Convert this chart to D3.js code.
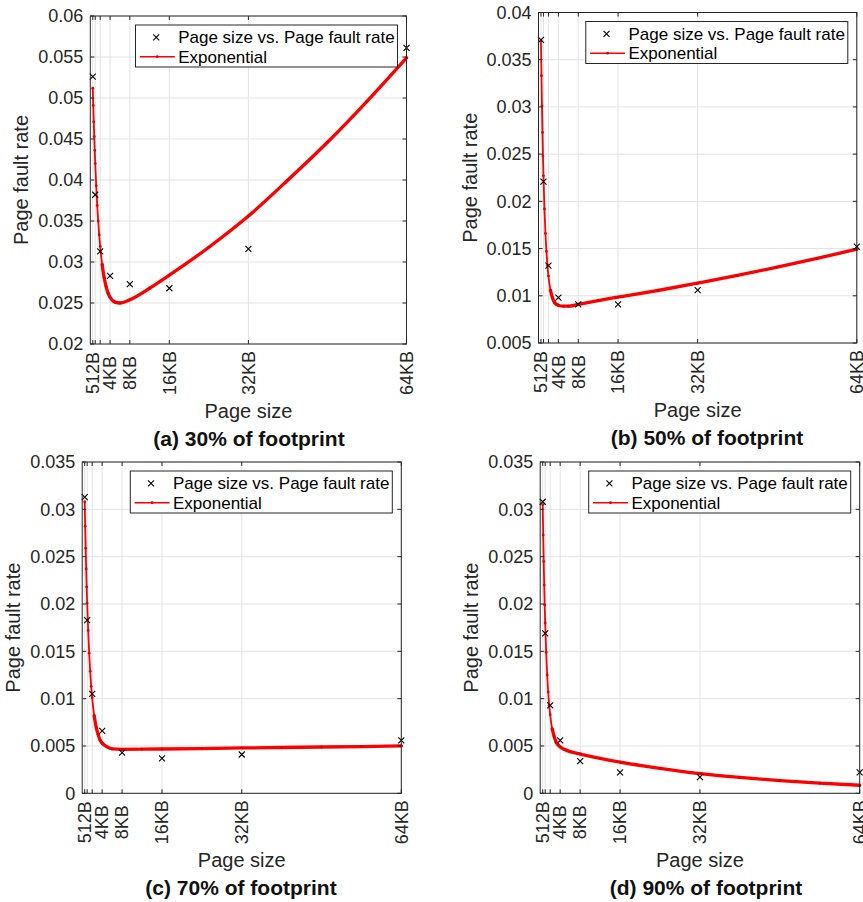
<!DOCTYPE html>
<html><head><meta charset="utf-8">
<script src="https://cdn.jsdelivr.net/npm/d3@7"></script>
<style>
body{margin:0;background:#fff}
svg text{font-family:"Liberation Sans",Arial,Helvetica,sans-serif;}
</style>
</head><body>
<svg id="chart" width="863" height="902"></svg>
<script>
// ---- data ----
const pageSizesKB = [0.5, 1, 2, 4, 8, 16, 32, 64];
const xTickLabels = ["512B", "", "", "4KB", "8KB", "16KB", "32KB", "64KB"];

const faultA = [0.0526, 0.0382, 0.0313, 0.0283, 0.0273, 0.0268, 0.0316, 0.0561];
const faultB = [0.0371, 0.0221, 0.0132, 0.0098, 0.0091, 0.0091, 0.0106, 0.0152];
const faultC = [0.0313, 0.0183, 0.0105, 0.0066, 0.0043, 0.0037, 0.0041, 0.0056];
const faultD = [0.0308, 0.0169, 0.0093, 0.0056, 0.0034, 0.0022, 0.0017, 0.0022];

const fitKB = [0.5, 0.6, 0.7, 0.8, 0.9, 1.0, 1.2, 1.4, 1.6, 1.8, 2.0, 2.4, 2.8, 3.2, 3.6, 4.0, 5, 6, 8, 12, 16, 24, 32, 40, 48, 56, 64];
const fitA = [0.0512, 0.0491, 0.0471, 0.0453, 0.0436, 0.0420, 0.0393, 0.0369, 0.0350, 0.0333, 0.0319, 0.0297, 0.0281, 0.0270, 0.0262, 0.0257, 0.0251, 0.0250, 0.0254, 0.0268, 0.0284, 0.0318, 0.0356, 0.0400, 0.0446, 0.0496, 0.0549];
const fitB = [0.0370, 0.0333, 0.0301, 0.0273, 0.0248, 0.0227, 0.0192, 0.0166, 0.0147, 0.0132, 0.0121, 0.0106, 0.0098, 0.0093, 0.0091, 0.0090, 0.0089, 0.0089, 0.0091, 0.0095, 0.00986, 0.01056, 0.01134, 0.01215, 0.01303, 0.01395, 0.01493];
const fitC = [0.0308, 0.0282, 0.0259, 0.0237, 0.0218, 0.0201, 0.0172, 0.0148, 0.0129, 0.0113, 0.0101, 0.0082, 0.0070, 0.0062, 0.0056, 0.0053, 0.0049, 0.0047, 0.00465, 0.00466, 0.00468, 0.00473, 0.00479, 0.00484, 0.00489, 0.00494, 0.0050];
const fitD = [0.0305, 0.0273, 0.0245, 0.0220, 0.0199, 0.0180, 0.0149, 0.0125, 0.0107, 0.0093, 0.0083, 0.0068, 0.0060, 0.0054, 0.0051, 0.0049, 0.0046, 0.0044, 0.00415, 0.0037, 0.0033, 0.00264, 0.00209, 0.00168, 0.00134, 0.00107, 0.00085];

const yTicksA = [0.02, 0.025, 0.03, 0.035, 0.04, 0.045, 0.05, 0.055, 0.06];
const yTicksB = [0.005, 0.01, 0.015, 0.02, 0.025, 0.03, 0.035, 0.04];
const yTicksCD = [0, 0.005, 0.01, 0.015, 0.02, 0.025, 0.03, 0.035];
const yTickLabelsA = ["0.02", "0.025", "0.03", "0.035", "0.04", "0.045", "0.05", "0.055", "0.06"];
const yTickLabelsB = ["0.005", "0.01", "0.015", "0.02", "0.025", "0.03", "0.035", "0.04"];
const yTickLabelsCD = ["0", "0.005", "0.01", "0.015", "0.02", "0.025", "0.03", "0.035"];

const panelTitles = ["(a) 30% of footprint", "(b) 50% of footprint", "(c) 70% of footprint", "(d) 90% of footprint"];
const legendLabels = ["Page size vs. Page fault rate", "Exponential"];
const xTitle = "Page size";
const yTitle = "Page fault rate";

// ---- layout ----
const panels = [
  {fault: faultA, fit: fitA, yt: yTicksA, ytl: yTickLabelsA, title: panelTitles[0], left: 90.3, right: 406.5, top: 16, bottom: 344, titleX: 249},
  {fault: faultB, fit: fitB, yt: yTicksB, ytl: yTickLabelsB, title: panelTitles[1], left: 538.5, right: 856.8, top: 12.5, bottom: 343, titleX: 707},
  {fault: faultC, fit: fitC, yt: yTicksCD, ytl: yTickLabelsCD, title: panelTitles[2], left: 82.2, right: 401.3, top: 462, bottom: 793.3, titleX: 241},
  {fault: faultD, fit: fitD, yt: yTicksCD, ytl: yTickLabelsCD, title: panelTitles[3], left: 540.2, right: 859.7, top: 462, bottom: 793.3, titleX: 706}
];

const svg = d3.select("#chart");
const axisCol = "#262626";
const gridCol = "#e3e3e3";
const red = "#ff0000";
const xMark = "M-3,-3L3,3M-3,3L3,-3";

panels.forEach(p => {
  const g = svg.append("g");
  const x = d3.scaleLinear().domain([0, 64]).range([p.left, p.right]);
  const y = d3.scaleLinear().domain([p.yt[0], p.yt[p.yt.length - 1]]).range([p.bottom, p.top]);

  // grid
  g.selectAll(".gx").data(pageSizesKB).enter().append("line")
    .attr("x1", d => x(d)).attr("x2", d => x(d)).attr("y1", p.top).attr("y2", p.bottom)
    .attr("stroke", gridCol).attr("stroke-width", 1);
  g.selectAll(".gy").data(p.yt).enter().append("line")
    .attr("x1", p.left).attr("x2", p.right).attr("y1", d => y(d)).attr("y2", d => y(d))
    .attr("stroke", gridCol).attr("stroke-width", 1);

  // fitted curve (thin through steep part, denser/thicker where samples crowd)
  const pts = fitKB.map((k, i) => [k, p.fit[i]]);
  const line = d3.line().x(d => x(d[0])).y(d => y(d[1])).curve(d3.curveMonotoneX);
  g.append("path").attr("d", line(pts)).attr("fill", "none")
    .attr("stroke", red).attr("stroke-width", 1.8).attr("stroke-linejoin", "round");
  g.append("path").attr("d", line(pts.filter(d => d[0] >= 2.4))).attr("fill", "none")
    .attr("stroke", red).attr("stroke-width", 3.3).attr("stroke-linejoin", "round").attr("stroke-linecap", "round");
  g.selectAll(".fd").data(pts).enter().append("circle")
    .attr("cx", d => x(d[0])).attr("cy", d => y(d[1])).attr("r", 1.4).attr("fill", "#e00000");

  // markers
  g.selectAll(".mk").data(pageSizesKB.map((k, i) => [k, p.fault[i]])).enter().append("path")
    .attr("d", xMark).attr("transform", d => `translate(${x(d[0])},${y(d[1])})`)
    .attr("stroke", "#000").attr("stroke-width", 1.1).attr("fill", "none");

  // box
  g.append("rect").attr("x", p.left).attr("y", p.top)
    .attr("width", p.right - p.left).attr("height", p.bottom - p.top)
    .attr("fill", "none").attr("stroke", axisCol).attr("stroke-width", 1);

  // ticks (inward)
  const tl = 4;
  pageSizesKB.forEach(d => {
    g.append("line").attr("x1", x(d)).attr("x2", x(d)).attr("y1", p.bottom).attr("y2", p.bottom - tl).attr("stroke", axisCol);
    g.append("line").attr("x1", x(d)).attr("x2", x(d)).attr("y1", p.top).attr("y2", p.top + tl).attr("stroke", axisCol);
  });
  p.yt.forEach(d => {
    g.append("line").attr("x1", p.left).attr("x2", p.left + tl).attr("y1", y(d)).attr("y2", y(d)).attr("stroke", axisCol);
    g.append("line").attr("x1", p.right).attr("x2", p.right - tl).attr("y1", y(d)).attr("y2", y(d)).attr("stroke", axisCol);
  });

  // tick labels
  g.selectAll(".ytl").data(p.yt).enter().append("text")
    .attr("x", p.left - 7).attr("y", d => y(d)).attr("dy", "0.35em")
    .attr("text-anchor", "end").attr("font-size", 18).attr("fill", axisCol)
    .text((d, i) => p.ytl[i]);
  g.selectAll(".xtl").data(pageSizesKB).enter().append("text")
    .attr("transform", d => `translate(${x(d)},${p.bottom + 29}) rotate(-90)`)
    .attr("dy", "0.35em").attr("text-anchor", "middle").attr("font-size", 18).attr("fill", axisCol)
    .text((d, i) => xTickLabels[i]);

  // axis titles
  g.append("text").attr("x", (p.left + p.right) / 2).attr("y", p.bottom + 66.5).attr("dy", "0.35em")
    .attr("text-anchor", "middle").attr("font-size", 20).attr("fill", axisCol).text(xTitle);
  g.append("text").attr("transform", `translate(${p.left - 69},${(p.top + p.bottom) / 2}) rotate(-90)`)
    .attr("dy", "0.35em").attr("text-anchor", "middle").attr("font-size", 20).attr("fill", axisCol).text(yTitle);

  // panel caption
  g.append("text").attr("x", p.titleX).attr("y", p.bottom + 94.5).attr("dy", "0.35em")
    .attr("text-anchor", "middle").attr("font-size", 21).attr("font-weight", "bold").attr("fill", "#111").text(p.title);

  // legend
  const lw = 262, lh = 42;
  const lx = p.right - 9 - lw, ly = p.top + 9;
  const lg = g.append("g").attr("transform", `translate(${lx},${ly})`);
  lg.append("rect").attr("width", lw).attr("height", lh).attr("fill", "#fff").attr("stroke", axisCol).attr("stroke-width", 1);
  lg.append("path").attr("d", xMark).attr("transform", "translate(20.7,12.3)").attr("stroke", "#000").attr("stroke-width", 1.1);
  lg.append("line").attr("x1", 4.3).attr("x2", 39.3).attr("y1", 31.7).attr("y2", 31.7).attr("stroke", red).attr("stroke-width", 1.6);
  lg.append("circle").attr("cx", 21.8).attr("cy", 31.7).attr("r", 1.4).attr("fill", "#e00000");
  lg.selectAll(".lt").data(legendLabels).enter().append("text")
    .attr("x", 42.7).attr("y", (d, i) => i === 0 ? 12.3 : 31.7).attr("dy", "0.35em")
    .attr("font-size", 17).attr("fill", "#000").text(d => d);
});
</script>
</body></html>
